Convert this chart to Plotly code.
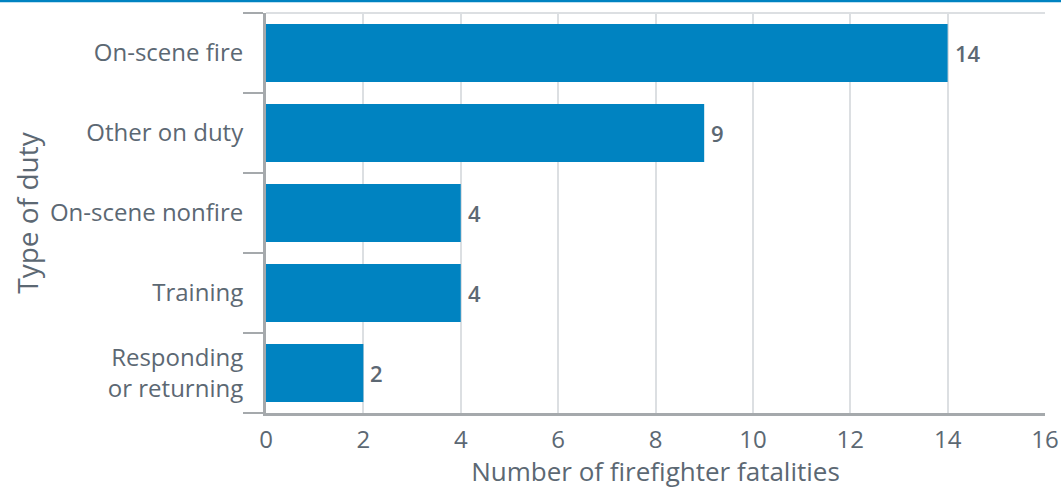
import plotly.graph_objects as go

# Firefighter fatalities by type of duty
duties = ["On-scene fire", "Other on duty", "On-scene nonfire", "Training", "Responding<br>or returning"]
fatalities = [14, 9, 4, 4, 2]
x_ticks = [0, 2, 4, 6, 8, 10, 12, 14, 16]

BAR = "#0083c1"
TEXT = "#5c6873"
GRID = "#dcdfe2"
AXIS = "#a5a9ac"

fig = go.Figure(
    go.Bar(
        x=fatalities,
        y=duties,
        orientation="h",
        marker=dict(color=BAR, line=dict(width=0)),
        width=0.725,
    )
)

# value labels just past the end of each bar
for d, v in zip(duties, fatalities):
    fig.add_annotation(
        x=v, y=d, xref="x", yref="y", text=str(v), showarrow=False,
        xanchor="left", yanchor="middle", xshift=5,
        font=dict(family="Open Sans", size=22, color=TEXT, weight=600),
    )

fig.update_layout(
    width=1061,
    height=489,
    margin=dict(l=266, r=16, t=13, b=76),
    paper_bgcolor="white",
    plot_bgcolor="white",
    font=dict(family="Open Sans", color=TEXT, size=24),
    showlegend=False,
    xaxis=dict(
        range=[0, 16],
        tickvals=x_ticks,
        automargin=False,
        showgrid=True,
        gridcolor=GRID,
        gridwidth=2,
        zeroline=False,
        showline=True,
        linecolor=AXIS,
        linewidth=3,
        ticks="outside",
        ticklen=3,
        tickcolor="rgba(0,0,0,0)",
        tickfont=dict(size=24, color=TEXT),
        title=dict(text="Number of firefighter fatalities", font=dict(size=26, color=TEXT), standoff=6),
    ),
    yaxis=dict(
        categoryorder="array",
        categoryarray=duties[::-1],
        automargin=False,
        showgrid=False,
        zeroline=False,
        showline=True,
        linecolor=AXIS,
        linewidth=3,
        ticks="outside",
        tickson="boundaries",
        ticklen=20,
        tickwidth=2,
        tickcolor=AXIS,
        ticklabelstandoff=15,
        tickfont=dict(size=24, color=TEXT),
        title=dict(text="Type of duty", font=dict(size=28, color=TEXT), standoff=4),
    ),
    shapes=[
        # light frame line along the top of the plotting area
        dict(type="line", xref="x domain", yref="y domain", x0=0, x1=1, y0=1, y1=1,
             line=dict(color=GRID, width=2)),
        # blue accent rule across the top of the figure
        dict(type="line", xref="paper", yref="paper", x0=-266 / 779, x1=1 + 16 / 779,
             y0=1 + 12 / 400, y1=1 + 12 / 400, line=dict(color=BAR, width=2.5)),
    ],
)

fig.write_html("out.html")
